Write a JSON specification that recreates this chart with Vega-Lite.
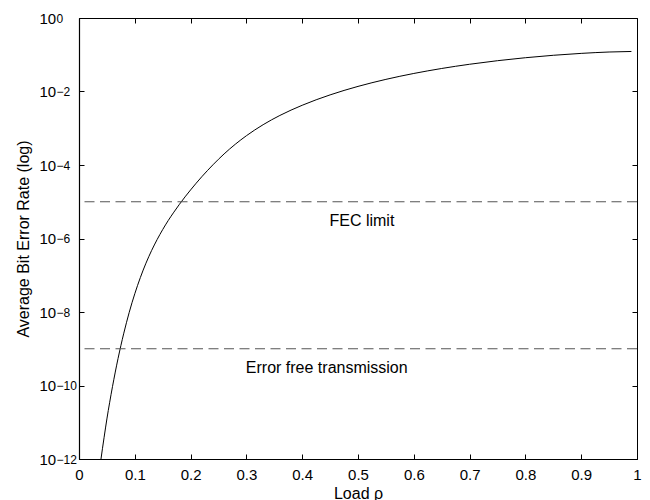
{
  "$schema": "https://vega.github.io/schema/vega-lite/v6.json",
  "width": 558,
  "height": 441,
  "autosize": {"type": "none"},
  "padding": {"left": 79, "top": 18, "right": 13, "bottom": 41},
  "background": "white",
  "config": {
    "font": "Liberation Sans",
    "view": {"stroke": "black", "strokeWidth": 1},
    "axis": {
      "grid": false,
      "domainColor": "black",
      "domainWidth": 1.2,
      "tickColor": "black",
      "tickWidth": 1,
      "tickSize": -5,
      "labelColor": "black",
      "labelFont": "Liberation Sans",
      "labelFontSize": 15,
      "labelFlush": false,
      "labelOverlap": false,
      "titleColor": "black",
      "titleFont": "Liberation Sans",
      "titleFontSize": 16,
      "titleFontWeight": "normal"
    }
  },
  "datasets": {
    "curve": [
      {"load": 0.0394, "ber": 1.0e-12},
      {"load": 0.042, "ber": 1.9e-12},
      {"load": 0.045, "ber": 3.9e-12},
      {"load": 0.05, "ber": 1.23e-11},
      {"load": 0.055, "ber": 3.5e-11},
      {"load": 0.06, "ber": 9.3e-11},
      {"load": 0.065, "ber": 2.32e-10},
      {"load": 0.07, "ber": 5.44e-10},
      {"load": 0.075, "ber": 1.21e-9},
      {"load": 0.08, "ber": 2.54e-9},
      {"load": 0.09, "ber": 9.8e-9},
      {"load": 0.1, "ber": 3.14e-8},
      {"load": 0.11, "ber": 8.7e-8},
      {"load": 0.12, "ber": 2.13e-7},
      {"load": 0.13, "ber": 4.67e-7},
      {"load": 0.14, "ber": 9.35e-7},
      {"load": 0.15, "ber": 1.75e-6},
      {"load": 0.16, "ber": 3.1e-6},
      {"load": 0.17, "ber": 5.21e-6},
      {"load": 0.18, "ber": 8.53e-6},
      {"load": 0.19, "ber": 1.355e-5},
      {"load": 0.2, "ber": 2.1e-5},
      {"load": 0.22, "ber": 4.78e-5},
      {"load": 0.24, "ber": 1.01e-4},
      {"load": 0.26, "ber": 2.0e-4},
      {"load": 0.28, "ber": 3.66e-4},
      {"load": 0.3, "ber": 6.26e-4},
      {"load": 0.33, "ber": 1.25e-3},
      {"load": 0.36, "ber": 2.23e-3},
      {"load": 0.4, "ber": 4.22e-3},
      {"load": 0.45, "ber": 8.09e-3},
      {"load": 0.5, "ber": 0.01377},
      {"load": 0.55, "ber": 0.02138},
      {"load": 0.6, "ber": 0.03097},
      {"load": 0.65, "ber": 0.04232},
      {"load": 0.7, "ber": 0.05513},
      {"load": 0.75, "ber": 0.06888},
      {"load": 0.8, "ber": 0.08302},
      {"load": 0.85, "ber": 0.0967},
      {"load": 0.9, "ber": 0.109},
      {"load": 0.95, "ber": 0.1187},
      {"load": 0.99, "ber": 0.1228}
    ],
    "limits": [
      {"ber": 1e-5},
      {"ber": 1e-9}
    ],
    "notes": [
      {"load": 0.507, "ber": 3.0e-6, "label": "FEC limit"},
      {"load": 0.444, "ber": 3.05e-10, "label": "Error free transmission"}
    ]
  },
  "layer": [
    {
      "data": {"name": "curve"},
      "mark": {"type": "line", "color": "black", "strokeWidth": 1, "interpolate": "monotone", "clip": true},
      "encoding": {
        "x": {
          "field": "load", "type": "quantitative",
          "scale": {"domain": [0, 1], "nice": false, "zero": false},
          "axis": {
            "orient": "bottom",
            "values": [0, 0.1, 0.2, 0.3, 0.4, 0.5, 0.6, 0.7, 0.8, 0.9, 1],
            "format": "~g",
            "labelPadding": 13,
            "title": "Load ρ",
            "titlePadding": 3
          }
        },
        "y": {
          "field": "ber", "type": "quantitative",
          "scale": {"type": "log", "domain": [1e-12, 1], "nice": false},
          "axis": {
            "orient": "left",
            "values": [1e-12, 1e-10, 1e-8, 1e-6, 1e-4, 1e-2, 1],
            "labelExpr": "'10'",
            "labelAlign": "left",
            "labelBaseline": "middle",
            "labelPadding": 45,
            "title": "Average Bit Error Rate (log)",
            "titlePadding": 8
          }
        }
      }
    },
    {
      "data": {"name": "limits"},
      "mark": {"type": "rule", "color": "#555555", "strokeWidth": 1, "strokeDash": [10, 5.5]},
      "encoding": {
        "y": {
          "field": "ber", "type": "quantitative",
          "scale": {"type": "log", "domain": [1e-12, 1], "nice": false},
          "axis": {
            "orient": "left",
            "values": [1e-12, 1e-10, 1e-8, 1e-6, 1e-4, 1e-2, 1],
            "labelExpr": "datum.value > 0.5 ? '0' : datum.value > 0.005 ? '−2' : datum.value > 0.00005 ? '−4' : datum.value > 0.0000005 ? '−6' : datum.value > 0.000000005 ? '−8' : datum.value > 0.00000000005 ? '−10' : '−12'",
            "labelAlign": "left",
            "labelBaseline": "middle",
            "labelFontSize": 12,
            "labelDy": -7,
            "labelPadding": 23,
            "ticks": false,
            "domain": false,
            "title": null
          }
        }
      }
    },
    {
      "data": {"name": "notes"},
      "mark": {"type": "text", "color": "black", "fontSize": 16, "font": "Liberation Sans", "align": "center", "baseline": "middle"},
      "encoding": {
        "x": {
          "field": "load", "type": "quantitative",
          "scale": {"domain": [0, 1], "nice": false, "zero": false},
          "axis": {
            "orient": "top",
            "values": [0, 0.1, 0.2, 0.3, 0.4, 0.5, 0.6, 0.7, 0.8, 0.9, 1],
            "labels": false,
            "domain": false,
            "title": null
          }
        },
        "y": {
          "field": "ber", "type": "quantitative",
          "scale": {"type": "log", "domain": [1e-12, 1], "nice": false},
          "axis": {
            "orient": "right",
            "values": [1e-12, 1e-10, 1e-8, 1e-6, 1e-4, 1e-2, 1],
            "labels": false,
            "domain": false,
            "title": null
          }
        },
        "text": {"field": "label", "type": "nominal"}
      }
    }
  ],
  "resolve": {"axis": {"x": "independent", "y": "independent"}}
}
